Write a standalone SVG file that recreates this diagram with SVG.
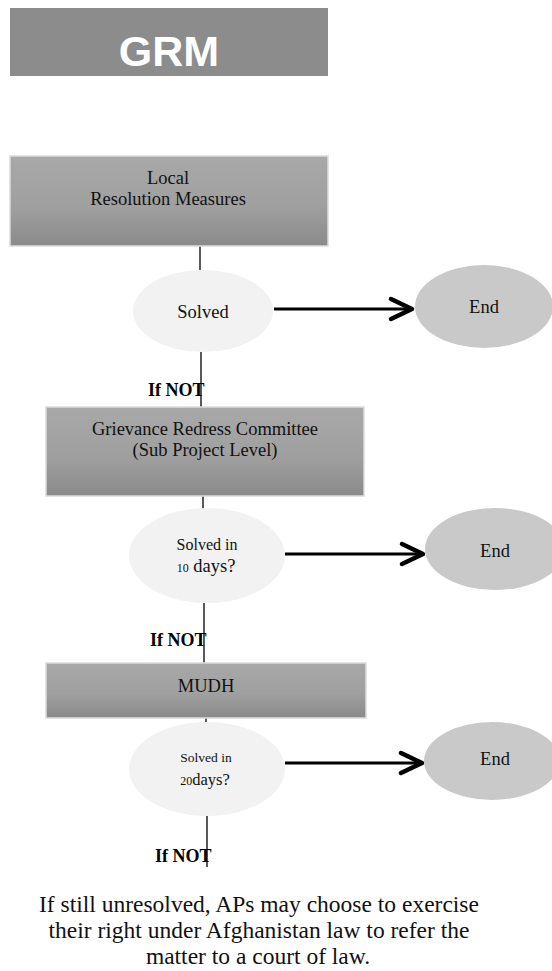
<svg xmlns="http://www.w3.org/2000/svg" width="552" height="971" viewBox="0 0 552 971">
<defs>
<linearGradient id="boxGrad" x1="0" y1="0" x2="0" y2="1">
<stop offset="0" stop-color="#a8a8a8"/>
<stop offset="0.55" stop-color="#a0a0a0"/>
<stop offset="1" stop-color="#8a8a8a"/>
</linearGradient>
<marker id="chev" markerUnits="userSpaceOnUse" viewBox="0 0 28 26" markerWidth="28" markerHeight="26" refX="24" refY="13" orient="auto">
<path d="M3,3 L24,13 L3,23" fill="none" stroke="#000" stroke-width="4.5" stroke-linecap="round" stroke-linejoin="round"/>
</marker>
<style>
.box{fill:url(#boxGrad);stroke:#dcdcdc;stroke-width:1.5}
.dec{fill:#f2f2f2}
.end{fill:#c9c9c9}
.t{font-family:"Liberation Serif","Times New Roman",serif;fill:#111;text-anchor:middle;font-size:18.5px}
.s{font-size:16px}
.s2{font-size:13.5px}
.m2{font-size:16.5px}
.xs{font-size:12px}
.note{font-size:23.5px}
.ifnot{font-family:"Liberation Serif","Times New Roman",serif;font-weight:bold;font-size:18px;fill:#000}
.ln{stroke:#000;stroke-width:1.3;fill:none}
.arr{stroke:#000;stroke-width:3;fill:none;marker-end:url(#chev)}
</style>
</defs>
<g id="title">
<rect x="10" y="8" width="318" height="68" fill="#8c8c8c"/>
<text x="169" y="66" font-family="'Liberation Sans',Arial,sans-serif" font-weight="bold" font-size="43" fill="#fff" text-anchor="middle">GRM</text>
</g>
<g id="connectors">
<line class="ln" x1="200" y1="246" x2="200" y2="270"/>
<line class="ln" x1="201" y1="352" x2="201" y2="407"/>
<line class="ln" x1="203" y1="496" x2="203" y2="509"/>
<line class="ln" x1="204" y1="602" x2="204" y2="663"/>
<line class="ln" x1="206" y1="718" x2="206" y2="723"/>
<line class="ln" x1="207" y1="815" x2="207" y2="867"/>
<line class="arr" x1="274" y1="309" x2="412" y2="309"/>
<line class="arr" x1="285" y1="554" x2="423" y2="554"/>
<line class="arr" x1="285" y1="763" x2="422" y2="763"/>
</g>
<g id="local">
<rect class="box" x="10" y="156" width="318" height="90"/>
<text class="t" x="168" y="184">Local</text>
<text class="t" x="168" y="205">Resolution Measures</text>
</g>
<g id="solved1">
<ellipse class="dec" cx="203" cy="311" rx="70" ry="41"/>
<text class="t" x="203" y="318">Solved</text>
</g>
<g id="end1">
<ellipse class="end" cx="484" cy="306.5" rx="69" ry="41.5"/>
<text class="t" x="484" y="313">End</text>
</g>
<g id="ifnot1"><text class="ifnot" x="148" y="396">If NOT</text></g>
<g id="grc">
<rect class="box" x="46" y="407" width="318" height="89"/>
<text class="t" x="205" y="435">Grievance Redress Committee</text>
<text class="t" x="205" y="456">(Sub Project Level)</text>
</g>
<g id="solved2">
<ellipse class="dec" cx="207" cy="555.5" rx="78" ry="47.5"/>
<text class="t s" x="207" y="550">Solved in</text>
<text class="t" x="206" y="572"><tspan class="xs">10</tspan> days?</text>
</g>
<g id="end2">
<ellipse class="end" cx="495" cy="549" rx="70" ry="41"/>
<text class="t" x="495" y="557">End</text>
</g>
<g id="ifnot2"><text class="ifnot" x="150" y="646">If NOT</text></g>
<g id="mudh">
<rect class="box" x="46" y="663" width="320" height="55"/>
<text class="t" x="206" y="692">MUDH</text>
</g>
<g id="solved3">
<ellipse class="dec" cx="207" cy="769" rx="78" ry="47"/>
<text class="t s2" x="206" y="762">Solved in</text>
<text class="t m2" x="205" y="785"><tspan class="xs">20</tspan>days?</text>
</g>
<g id="end3">
<ellipse class="end" cx="492" cy="761" rx="68" ry="39"/>
<text class="t" x="495" y="765">End</text>
</g>
<g id="ifnot3"><text class="ifnot" x="155" y="862">If NOT</text></g>
<g id="note">
<text class="t note" x="259" y="912">If still unresolved, APs may choose to exercise</text>
<text class="t note" x="259" y="938">their right under Afghanistan law to refer the</text>
<text class="t note" x="258" y="964">matter to a court of law.</text>
</g>
</svg>
